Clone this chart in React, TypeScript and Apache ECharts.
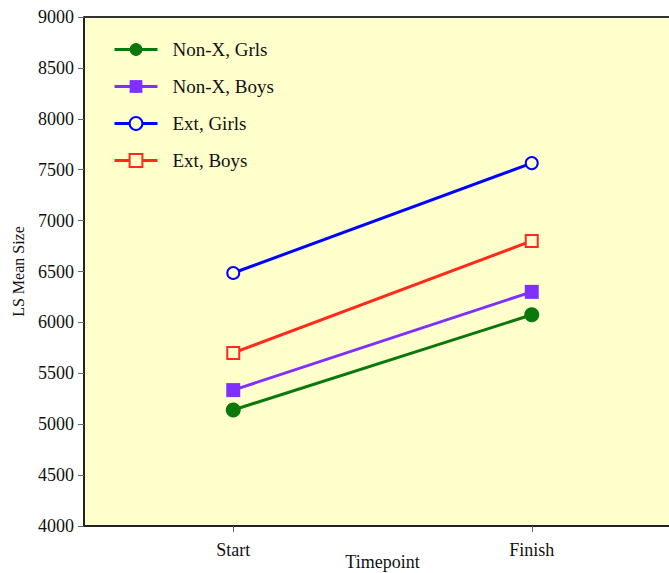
import React, { useEffect, useRef } from "react";
import * as echarts from "echarts";

const categories = ["Start", "Finish"];
const nonXGirls = [5140, 6075];
const nonXBoys = [5335, 6300];
const extGirls = [6485, 7565];
const extBoys = [5700, 6800];
const yTicks = { min: 4000, max: 9000, interval: 500 };

const FONT = "Liberation Serif";
const BG = "#ffffcc";

export default function App() {
  const ref = useRef<HTMLDivElement>(null);
  useEffect(() => {
    const chart = echarts.init(ref.current!, null, { renderer: "svg" });
    const mk = (name: string, data: number[], color: string, symbol: string, size: number, hollow: boolean, z: number) => ({
      name,
      type: "line",
      data,
      z,
      symbol,
      symbolSize: size,
      showSymbol: true,
      lineStyle: { color, width: 3 },
      itemStyle: hollow
        ? { color: BG, borderColor: color, borderWidth: 2 }
        : { color, borderColor: color, borderWidth: 0 },
      emphasis: { disabled: true },
    });
    chart.setOption({
      animation: false,
      backgroundColor: "#ffffff",
      textStyle: { fontFamily: FONT },
      grid: {
        left: 84,
        top: 17,
        bottom: 47,
        right: -12,
        outerBoundsMode: "none",
        containLabel: false,
        show: true,
        backgroundColor: BG,
        borderWidth: 0,
      },
      legend: {
        orient: "vertical",
        left: 113,
        top: 40,
        padding: 0,
        itemWidth: 43,
        itemHeight: 16,
        itemGap: 18,
        lineStyle: { width: 3 },
        textStyle: { fontFamily: FONT, fontSize: 19, color: "#111", padding: [0, 0, 0, 10] },
        data: ["Non-X, Grls", "Non-X, Boys", "Ext, Girls", "Ext, Boys"],
      },
      xAxis: {
        type: "category",
        data: categories,
        name: "Timepoint",
        nameLocation: "middle",
        nameGap: 27,
        nameMoveOverlap: false,
        nameTextStyle: { fontFamily: FONT, fontSize: 18, color: "#111" },
        axisLine: { show: true, lineStyle: { color: "#222", width: 2 } },
        axisTick: { show: true, alignWithLabel: true, length: 6, lineStyle: { color: "#666" } },
        axisLabel: { fontFamily: FONT, fontSize: 18, color: "#111", margin: 15 },
        splitLine: { show: false },
      },
      yAxis: {
        type: "value",
        min: yTicks.min,
        max: yTicks.max,
        interval: yTicks.interval,
        name: "LS Mean Size",
        nameLocation: "middle",
        nameGap: 58,
        nameMoveOverlap: false,
        nameTextStyle: { fontFamily: FONT, fontSize: 16, color: "#111" },
        axisLine: { show: true, lineStyle: { color: "#222", width: 2 } },
        axisTick: { show: true, length: 6, lineStyle: { color: "#666" } },
        axisLabel: {
          fontFamily: FONT,
          fontSize: 18,
          color: "#111",
          margin: 10,
          formatter: (v: number) => String(v),
        },
        splitLine: { show: false },
      },
      series: [
        mk("Non-X, Grls", nonXGirls, "#0a780a", "circle", 15, false, 4),
        mk("Non-X, Boys", nonXBoys, "#7f30ff", "rect", 14, false, 3),
        mk("Ext, Girls", extGirls, "#0000ff", "circle", 12, true, 2),
        mk("Ext, Boys", extBoys, "#ff2a1a", "rect", 12, true, 1),
      ],
      graphic: [
        {
          type: "line",
          shape: { x1: 84, y1: 17, x2: 669, y2: 17 },
          style: { stroke: "#333", lineWidth: 2 },
          z: 10,
        },
      ],
    });
    return () => chart.dispose();
  }, []);
  return (
    <div
      ref={ref}
      style={{ position: "fixed", left: 0, top: 0, width: 669, height: 573 }}
    />
  );
}
